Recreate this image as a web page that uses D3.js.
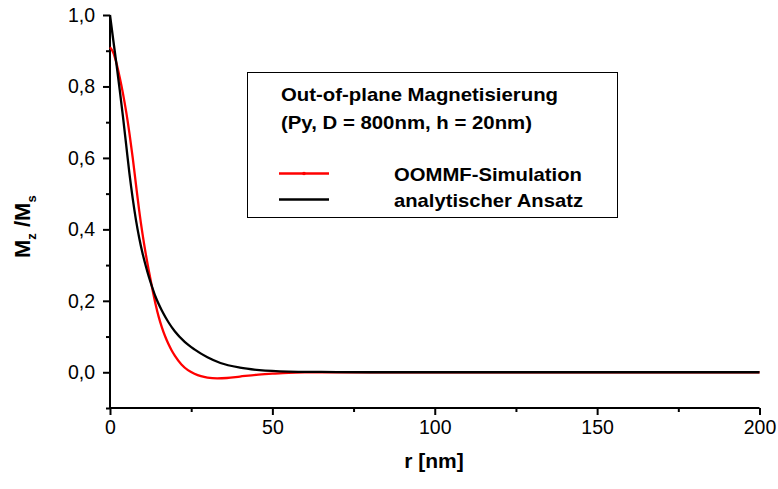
<!DOCTYPE html>
<html>
<head>
<meta charset="utf-8">
<script src="https://cdn.jsdelivr.net/npm/d3@7"></script>
<style>
  body { margin: 0; background: #fff; }
  svg { display: block; font-family: "Liberation Sans", Arial, sans-serif; }
</style>
</head>
<body>
<svg id="chart" width="778" height="489"></svg>
<script>
// ---- data ----
const simR = [0, 1, 2, 3, 4, 5, 6, 7, 8, 9, 10, 11, 12, 13, 14, 15, 16, 17, 18, 19, 20, 22, 24, 26, 28, 30, 33, 36, 40, 45, 50, 55, 60, 70, 80, 100, 125, 150, 175, 200];
const simM = [0.91, 0.895, 0.865, 0.825, 0.78, 0.728, 0.668, 0.60, 0.525, 0.452, 0.388, 0.332, 0.282, 0.235, 0.192, 0.155, 0.125, 0.10, 0.079, 0.061, 0.046, 0.022, 0.006, -0.004, -0.011, -0.015, -0.017, -0.016, -0.012, -0.007, -0.004, -0.0015, -0.0005, 0, 0, 0, 0, 0, 0, 0];
const anaR = [0, 1, 2, 3, 4, 5, 6, 7, 8, 9, 10, 11, 12, 13, 14, 16, 18, 20, 23, 26, 30, 34, 40, 46, 55, 65, 80, 100, 150, 200];
const anaM = [1.0, 0.93, 0.862, 0.79, 0.715, 0.635, 0.555, 0.486, 0.426, 0.376, 0.334, 0.298, 0.266, 0.238, 0.212, 0.172, 0.14, 0.114, 0.085, 0.064, 0.042, 0.026, 0.013, 0.006, 0.002, 0.001, 0, 0, 0, 0];
const xTicks = [0, 50, 100, 150, 200];
const xMinor = [25, 75, 125, 175];
const yTicks = [0.0, 0.2, 0.4, 0.6, 0.8, 1.0];
const yMinor = [-0.1, 0.1, 0.3, 0.5, 0.7, 0.9];
const legendTitle = ["Out-of-plane Magnetisierung", "(Py, D = 800nm, h = 20nm)"];
const seriesNames = ["OOMMF-Simulation", "analytischer Ansatz"];
const seriesColors = ["#ff0000", "#000000"];

// ---- layout ----
const svg = d3.select("#chart");
const x = d3.scaleLinear().domain([0, 200]).range([110, 759.5]);
const y = d3.scaleLinear().domain([-0.1, 1.0]).range([408, 15]);

const fmt = v => d3.format(".1f")(v).replace(".", ",");

// x axis
const gx = svg.append("g").attr("transform", `translate(0,${y(-0.1)})`);
gx.call(d3.axisBottom(x).tickValues(xTicks).tickSize(7).tickPadding(5).tickFormat(d3.format("d")));
gx.append("g").call(d3.axisBottom(x).tickValues(xMinor).tickSize(4).tickFormat(""))
  .select(".domain").remove();
// y axis
const gy = svg.append("g").attr("transform", `translate(${x(0)},0)`);
gy.call(d3.axisLeft(y).tickValues(yTicks).tickSize(7).tickPadding(8).tickFormat(fmt));
gy.append("g").call(d3.axisLeft(y).tickValues(yMinor).tickSize(4).tickFormat(""))
  .select(".domain").remove();

svg.selectAll(".domain").attr("stroke", "#000").attr("stroke-width", 2).attr("d", null);
gx.select(".domain").attr("d", `M${x(0)},0H${x(200)}`);
gy.select(".domain").attr("d", `M0,${y(-0.1)}V${y(1.0)}`);
svg.selectAll(".tick line").attr("stroke", "#000").attr("stroke-width", 2);
svg.selectAll(".tick text").attr("font-size", 19.5).attr("fill", "#000")
  .attr("font-family", "'Liberation Sans', Arial, sans-serif");

// curves
const line = d3.line().x(d => x(d[0])).y(d => y(d[1])).curve(d3.curveMonotoneX);
const sim = simR.map((r, i) => [r, simM[i]]);
const ana = anaR.map((r, i) => [r, anaM[i]]);
svg.append("path").datum(sim).attr("d", line).attr("fill", "none")
  .attr("stroke", seriesColors[0]).attr("stroke-width", 2.3).attr("stroke-linejoin", "round");
svg.append("path").datum(ana).attr("d", line).attr("fill", "none")
  .attr("stroke", seriesColors[1]).attr("stroke-width", 2.3).attr("stroke-linejoin", "round");

// axis titles
svg.append("text").attr("x", 434).attr("y", 468).attr("text-anchor", "middle")
  .attr("font-size", 21).attr("font-weight", "bold").text("r [nm]");

const yl = svg.append("text").attr("transform", "translate(30,258) rotate(-90)")
  .attr("font-size", 22).attr("font-weight", "bold");
yl.append("tspan").text("M");
yl.append("tspan").attr("font-size", 13).attr("dy", 6).text("z");
yl.append("tspan").attr("dy", -6).text(" /M");
yl.append("tspan").attr("font-size", 13).attr("dy", 6).text("s");

// legend
const lg = svg.append("g");
lg.append("rect").attr("x", 247.5).attr("y", 72.5).attr("width", 370).attr("height", 145)
  .attr("fill", "#fff").attr("stroke", "#000").attr("stroke-width", 1);
const titleW = [277, 251];
legendTitle.forEach((t, i) => {
  lg.append("text").attr("x", 281).attr("y", 101 + i * 28)
    .attr("font-size", 19).attr("font-weight", "bold")
    .attr("textLength", titleW[i]).attr("lengthAdjust", "spacingAndGlyphs").text(t);
});
const nameW = [188, 189];
seriesNames.forEach((n, i) => {
  const ly = 173.5 + i * 26;
  lg.append("line").attr("x1", 279).attr("x2", 329).attr("y1", ly).attr("y2", ly)
    .attr("stroke", seriesColors[i]).attr("stroke-width", 2.3);
  if (i === 0) lg.append("circle").attr("cx", 304).attr("cy", ly).attr("r", 1.8).attr("fill", seriesColors[i]);
  lg.append("text").attr("x", 394).attr("y", ly + 7)
    .attr("font-size", 19).attr("font-weight", "bold")
    .attr("textLength", nameW[i]).attr("lengthAdjust", "spacingAndGlyphs").text(n);
});
</script>
</body>
</html>
